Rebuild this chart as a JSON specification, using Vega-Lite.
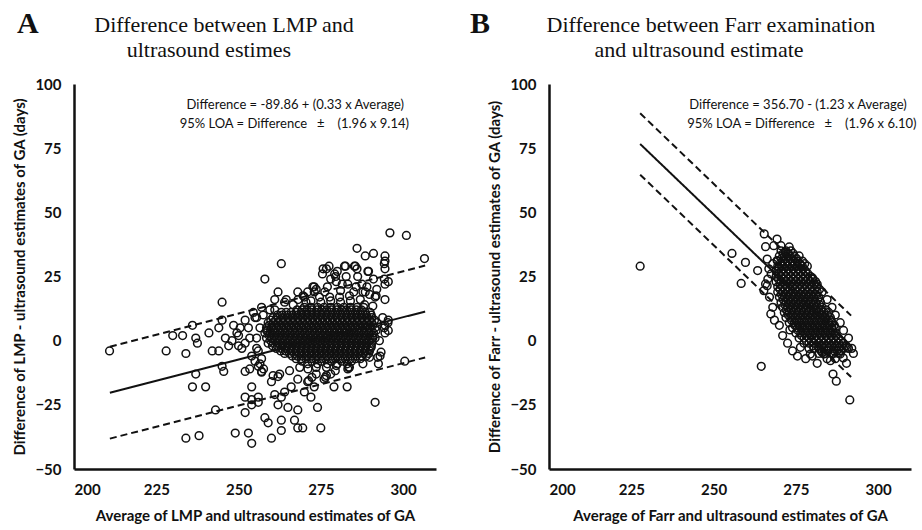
{
"$schema":"https://vega.github.io/schema/vega-lite/v6.json",
"background":"white",
"padding":{"left":12,"top":8,"right":5,"bottom":2},
"spacing":113,
"bounds":"flush",
"datasets":{
"lmp":[
{"x":210.8,"y":-4},{"x":228,"y":-4},{"x":234,"y":-5},{"x":230,"y":2},{"x":233,"y":2},{"x":236,"y":6},{"x":237,"y":1},{"x":237.5,"y":-1},{"x":241,"y":3},{"x":244,"y":5},{"x":245,"y":8},{"x":245,"y":15},{"x":242,"y":-4},{"x":244,"y":-4},{"x":245,"y":-10},{"x":245.5,"y":-12},{"x":237,"y":-13},{"x":236,"y":-18},{"x":240,"y":-18},{"x":243,"y":-27},{"x":234,"y":-38},{"x":238,"y":-37},{"x":249,"y":-36},{"x":253,"y":-36},{"x":254,"y":-40},{"x":260,"y":-38},{"x":263,"y":-35},{"x":267,"y":-31},{"x":268,"y":-34},{"x":269.5,"y":-34},{"x":275,"y":-34},{"x":263,"y":-31},{"x":258,"y":-30},{"x":259,"y":-32},{"x":252,"y":-28},{"x":254,"y":-18},{"x":254,"y":-23},{"x":256,"y":-24},{"x":254,"y":-25},{"x":262,"y":-25},{"x":265,"y":-26},{"x":268,"y":-27},{"x":274,"y":-26},{"x":272,"y":-22},{"x":273,"y":-18},{"x":279,"y":-18},{"x":283,"y":-18},{"x":291.5,"y":-24},{"x":300.5,"y":-8},{"x":292.5,"y":-9},{"x":293,"y":-6},{"x":295.5,"y":8},{"x":294.5,"y":6},{"x":294.5,"y":3},{"x":295.5,"y":4},{"x":294.5,"y":22},{"x":295.5,"y":23},{"x":294.5,"y":28},{"x":294.5,"y":31},{"x":294.5,"y":33},{"x":306.5,"y":32},{"x":288.5,"y":33},{"x":291.5,"y":17},{"x":294.5,"y":16},{"x":289.5,"y":27},{"x":285.5,"y":29},{"x":282.5,"y":29},{"x":277.5,"y":29},{"x":275.5,"y":26},{"x":279.5,"y":25},{"x":258,"y":24},{"x":263,"y":30},{"x":262,"y":19},{"x":270,"y":17},{"x":273,"y":21},{"x":281.5,"y":22},{"x":288.5,"y":19},{"x":287.5,"y":22},{"x":261,"y":16},{"x":257,"y":13},{"x":252,"y":8},{"x":255,"y":9},{"x":250,"y":2},{"x":250,"y":-2},{"x":252,"y":-12},{"x":256,"y":-10},{"x":257,"y":-12},{"x":260,"y":-16},{"x":262,"y":-14},{"x":264,"y":-20},{"x":261,"y":-21},{"x":263,"y":-22},{"x":252,"y":-22},{"x":256,"y":-22},{"x":296,"y":42},{"x":301,"y":41},{"x":286,"y":36},{"x":291,"y":34},
{"x":253.4,"y":1},{"x":255.5,"y":-3},{"x":256.5,"y":-9},{"x":253.4,"y":-11},{"x":257.6,"y":-11},{"x":255.5,"y":9},{"x":256.5,"y":5},{"x":258.5,"y":4},{"x":264.5,"y":16},{"x":261,"y":12},{"x":264,"y":15},
{"x":248,"y":0},{"x":249.5,"y":3},{"x":251,"y":-3},{"x":253,"y":5},{"x":254,"y":-6},{"x":255.5,"y":1},{"x":256,"y":-4},{"x":257,"y":-7},{"x":255,"y":-8},{"x":252,"y":-1},{"x":250.5,"y":5},{"x":247,"y":-2},{"x":248.5,"y":6},{"x":246,"y":1},{"x":254.5,"y":11},{"x":257.5,"y":10},{"x":259.5,"y":12},
{"x":275.7,"y":28},{"x":276.7,"y":28},{"x":282.2,"y":29},{"x":285.2,"y":29},{"x":294.3,"y":30},{"x":289.3,"y":27},{"x":294.3,"y":24},{"x":272.6,"y":21},{"x":273.6,"y":20},{"x":276.2,"y":19},{"x":279.2,"y":26},{"x":279.7,"y":23},{"x":282.7,"y":25},{"x":283.2,"y":22},{"x":286.2,"y":25},{"x":285.7,"y":21},{"x":287.8,"y":19},{"x":289.8,"y":18},{"x":291.8,"y":17.5},{"x":283.7,"y":17.5},{"x":280.7,"y":17},{"x":277.7,"y":17},{"x":274.6,"y":17},{"x":269.6,"y":17.5},{"x":268.1,"y":16},{"x":266.6,"y":14},{"x":288.3,"y":14},{"x":290.8,"y":13.5},
{"x":270.5,"y":15},{"x":272,"y":15.5},{"x":275,"y":15},{"x":278,"y":15.5},{"x":281,"y":15},{"x":284,"y":15.5},{"x":287,"y":16},{"x":273,"y":19},{"x":277,"y":21},{"x":281,"y":19.5},{"x":285,"y":19},{"x":289,"y":21},{"x":292,"y":20},{"x":291,"y":24},{"x":286,"y":28},{"x":280,"y":27},{"x":278,"y":24},{"x":271,"y":19},{"x":268,"y":19},
{"x":293.8,"y":9},{"x":295.4,"y":7},{"x":294.3,"y":5},{"x":290.8,"y":1},{"x":292.8,"y":0},{"x":290.3,"y":-2.6},{"x":293.3,"y":-4.5},{"x":292.3,"y":-6.5},{"x":289.8,"y":-6.5},
{"x":287.8,"y":-9},{"x":283.7,"y":-10.4},{"x":279.7,"y":-9.7},{"x":276.7,"y":-10.4},{"x":273.6,"y":-10.4},{"x":271.1,"y":-11},{"x":268.6,"y":-10.4},{"x":265.5,"y":-11.7},{"x":262.5,"y":-13},{"x":260.5,"y":-13.6},{"x":257,"y":-12.3},{"x":273.6,"y":-13},{"x":276.7,"y":-13.6},{"x":283.2,"y":-11},{"x":271.3,"y":-15.6},{"x":276.4,"y":-14.3},{"x":279.4,"y":-11.7},{"x":283.4,"y":-10.4},{"x":272.3,"y":-14.3},{"x":268,"y":-15},{"x":271,"y":-16},{"x":276,"y":-15},{"x":270,"y":-20},{"x":266,"y":-18},{"x":278,"y":-13},
{"x":270,"y":13},{"x":272,"y":13},{"x":274,"y":13},{"x":276,"y":13},{"x":278,"y":13},{"x":280,"y":13},{"x":282,"y":13},{"x":284,"y":13},{"x":286,"y":13},{"x":288,"y":13},
{"x":263,"y":11},{"x":264.5,"y":11},{"x":266,"y":11},{"x":267.5,"y":11},{"x":269,"y":11},{"x":270.5,"y":11},{"x":272,"y":11},{"x":273.5,"y":11},{"x":275,"y":11},{"x":276.5,"y":11},{"x":278,"y":11},{"x":279.5,"y":11},{"x":281,"y":11},{"x":282.5,"y":11},{"x":284,"y":11},{"x":285.5,"y":11},{"x":287,"y":11},{"x":288.5,"y":11},{"x":290,"y":11},
{"x":260.5,"y":9},{"x":262,"y":9},{"x":263.5,"y":9},{"x":265,"y":9},{"x":266.5,"y":9},{"x":268,"y":9},{"x":269.5,"y":9},{"x":271,"y":9},{"x":272.5,"y":9},{"x":274,"y":9},{"x":275.5,"y":9},{"x":277,"y":9},{"x":278.5,"y":9},{"x":280,"y":9},{"x":281.5,"y":9},{"x":283,"y":9},{"x":284.5,"y":9},{"x":286,"y":9},{"x":287.5,"y":9},{"x":289,"y":9},{"x":290.5,"y":9},
{"x":259,"y":7},{"x":260.5,"y":7},{"x":262,"y":7},{"x":263.5,"y":7},{"x":265,"y":7},{"x":266.5,"y":7},{"x":268,"y":7},{"x":269.5,"y":7},{"x":271,"y":7},{"x":272.5,"y":7},{"x":274,"y":7},{"x":275.5,"y":7},{"x":277,"y":7},{"x":278.5,"y":7},{"x":280,"y":7},{"x":281.5,"y":7},{"x":283,"y":7},{"x":284.5,"y":7},{"x":286,"y":7},{"x":287.5,"y":7},{"x":289,"y":7},{"x":290.5,"y":7},{"x":292,"y":7},
{"x":258.5,"y":5},{"x":260,"y":5},{"x":261.5,"y":5},{"x":263,"y":5},{"x":264.5,"y":5},{"x":266,"y":5},{"x":267.5,"y":5},{"x":269,"y":5},{"x":270.5,"y":5},{"x":272,"y":5},{"x":273.5,"y":5},{"x":275,"y":5},{"x":276.5,"y":5},{"x":278,"y":5},{"x":279.5,"y":5},{"x":281,"y":5},{"x":282.5,"y":5},{"x":284,"y":5},{"x":285.5,"y":5},{"x":287,"y":5},{"x":288.5,"y":5},{"x":290,"y":5},{"x":291.5,"y":5},
{"x":258,"y":3},{"x":259.5,"y":3},{"x":261,"y":3},{"x":262.5,"y":3},{"x":264,"y":3},{"x":265.5,"y":3},{"x":267,"y":3},{"x":268.5,"y":3},{"x":270,"y":3},{"x":271.5,"y":3},{"x":273,"y":3},{"x":274.5,"y":3},{"x":276,"y":3},{"x":277.5,"y":3},{"x":279,"y":3},{"x":280.5,"y":3},{"x":282,"y":3},{"x":283.5,"y":3},{"x":285,"y":3},{"x":286.5,"y":3},{"x":288,"y":3},{"x":289.5,"y":3},{"x":291,"y":3},
{"x":258.5,"y":1},{"x":260,"y":1},{"x":261.5,"y":1},{"x":263,"y":1},{"x":264.5,"y":1},{"x":266,"y":1},{"x":267.5,"y":1},{"x":269,"y":1},{"x":270.5,"y":1},{"x":272,"y":1},{"x":273.5,"y":1},{"x":275,"y":1},{"x":276.5,"y":1},{"x":278,"y":1},{"x":279.5,"y":1},{"x":281,"y":1},{"x":282.5,"y":1},{"x":284,"y":1},{"x":285.5,"y":1},{"x":287,"y":1},{"x":288.5,"y":1},{"x":290,"y":1},{"x":291.5,"y":1},
{"x":259,"y":-1},{"x":260.5,"y":-1},{"x":262,"y":-1},{"x":263.5,"y":-1},{"x":265,"y":-1},{"x":266.5,"y":-1},{"x":268,"y":-1},{"x":269.5,"y":-1},{"x":271,"y":-1},{"x":272.5,"y":-1},{"x":274,"y":-1},{"x":275.5,"y":-1},{"x":277,"y":-1},{"x":278.5,"y":-1},{"x":280,"y":-1},{"x":281.5,"y":-1},{"x":283,"y":-1},{"x":284.5,"y":-1},{"x":286,"y":-1},{"x":287.5,"y":-1},{"x":289,"y":-1},{"x":290.5,"y":-1},
{"x":261.5,"y":-3},{"x":263,"y":-3},{"x":264.5,"y":-3},{"x":266,"y":-3},{"x":267.5,"y":-3},{"x":269,"y":-3},{"x":270.5,"y":-3},{"x":272,"y":-3},{"x":273.5,"y":-3},{"x":275,"y":-3},{"x":276.5,"y":-3},{"x":278,"y":-3},{"x":279.5,"y":-3},{"x":281,"y":-3},{"x":282.5,"y":-3},{"x":284,"y":-3},{"x":285.5,"y":-3},{"x":287,"y":-3},{"x":288.5,"y":-3},{"x":290,"y":-3},
{"x":264,"y":-5},{"x":265.5,"y":-5},{"x":267,"y":-5},{"x":268.5,"y":-5},{"x":270,"y":-5},{"x":271.5,"y":-5},{"x":273,"y":-5},{"x":274.5,"y":-5},{"x":276,"y":-5},{"x":277.5,"y":-5},{"x":279,"y":-5},{"x":280.5,"y":-5},{"x":282,"y":-5},{"x":283.5,"y":-5},{"x":285,"y":-5},{"x":286.5,"y":-5},{"x":288,"y":-5},{"x":289.5,"y":-5},
{"x":267.5,"y":-7},{"x":269,"y":-7},{"x":270.5,"y":-7},{"x":272,"y":-7},{"x":273.5,"y":-7},{"x":275,"y":-7},{"x":276.5,"y":-7},{"x":278,"y":-7},{"x":279.5,"y":-7},{"x":281,"y":-7},{"x":282.5,"y":-7},{"x":284,"y":-7},{"x":285.5,"y":-7},{"x":287,"y":-7},
{"x":271,"y":-9},{"x":274,"y":-9},{"x":277,"y":-9},{"x":280,"y":-9},{"x":283,"y":-9},
{"x":267.8,"y":12},{"x":269.3,"y":12},{"x":270.8,"y":12},{"x":272.3,"y":12},{"x":273.8,"y":12},{"x":275.3,"y":12},{"x":276.8,"y":12},{"x":278.3,"y":12},{"x":279.8,"y":12},{"x":281.3,"y":12},{"x":282.8,"y":12},{"x":284.3,"y":12},{"x":285.8,"y":12},{"x":287.3,"y":12},
{"x":261.8,"y":10},{"x":263.3,"y":10},{"x":264.8,"y":10},{"x":266.3,"y":10},{"x":267.8,"y":10},{"x":269.3,"y":10},{"x":270.8,"y":10},{"x":272.3,"y":10},{"x":273.8,"y":10},{"x":275.3,"y":10},{"x":276.8,"y":10},{"x":278.3,"y":10},{"x":279.8,"y":10},{"x":281.3,"y":10},{"x":282.8,"y":10},{"x":284.3,"y":10},{"x":285.8,"y":10},{"x":287.3,"y":10},{"x":288.8,"y":10},{"x":290.3,"y":10},
{"x":259.8,"y":8},{"x":261.3,"y":8},{"x":262.8,"y":8},{"x":264.3,"y":8},{"x":265.8,"y":8},{"x":267.3,"y":8},{"x":268.8,"y":8},{"x":270.3,"y":8},{"x":271.8,"y":8},{"x":273.3,"y":8},{"x":274.8,"y":8},{"x":276.3,"y":8},{"x":277.8,"y":8},{"x":279.3,"y":8},{"x":280.8,"y":8},{"x":282.3,"y":8},{"x":283.8,"y":8},{"x":285.3,"y":8},{"x":286.8,"y":8},{"x":288.3,"y":8},{"x":289.8,"y":8},{"x":291.3,"y":8},
{"x":259.3,"y":6},{"x":260.8,"y":6},{"x":262.3,"y":6},{"x":263.8,"y":6},{"x":265.3,"y":6},{"x":266.8,"y":6},{"x":268.3,"y":6},{"x":269.8,"y":6},{"x":271.3,"y":6},{"x":272.8,"y":6},{"x":274.3,"y":6},{"x":275.8,"y":6},{"x":277.3,"y":6},{"x":278.8,"y":6},{"x":280.3,"y":6},{"x":281.8,"y":6},{"x":283.3,"y":6},{"x":284.8,"y":6},{"x":286.3,"y":6},{"x":287.8,"y":6},{"x":289.3,"y":6},{"x":290.8,"y":6},
{"x":258.8,"y":4},{"x":260.3,"y":4},{"x":261.8,"y":4},{"x":263.3,"y":4},{"x":264.8,"y":4},{"x":266.3,"y":4},{"x":267.8,"y":4},{"x":269.3,"y":4},{"x":270.8,"y":4},{"x":272.3,"y":4},{"x":273.8,"y":4},{"x":275.3,"y":4},{"x":276.8,"y":4},{"x":278.3,"y":4},{"x":279.8,"y":4},{"x":281.3,"y":4},{"x":282.8,"y":4},{"x":284.3,"y":4},{"x":285.8,"y":4},{"x":287.3,"y":4},{"x":288.8,"y":4},{"x":290.3,"y":4},{"x":291.8,"y":4},
{"x":259.3,"y":2},{"x":260.8,"y":2},{"x":262.3,"y":2},{"x":263.8,"y":2},{"x":265.3,"y":2},{"x":266.8,"y":2},{"x":268.3,"y":2},{"x":269.8,"y":2},{"x":271.3,"y":2},{"x":272.8,"y":2},{"x":274.3,"y":2},{"x":275.8,"y":2},{"x":277.3,"y":2},{"x":278.8,"y":2},{"x":280.3,"y":2},{"x":281.8,"y":2},{"x":283.3,"y":2},{"x":284.8,"y":2},{"x":286.3,"y":2},{"x":287.8,"y":2},{"x":289.3,"y":2},{"x":290.8,"y":2},
{"x":259.8,"y":0},{"x":261.3,"y":0},{"x":262.8,"y":0},{"x":264.3,"y":0},{"x":265.8,"y":0},{"x":267.3,"y":0},{"x":268.8,"y":0},{"x":270.3,"y":0},{"x":271.8,"y":0},{"x":273.3,"y":0},{"x":274.8,"y":0},{"x":276.3,"y":0},{"x":277.8,"y":0},{"x":279.3,"y":0},{"x":280.8,"y":0},{"x":282.3,"y":0},{"x":283.8,"y":0},{"x":285.3,"y":0},{"x":286.8,"y":0},{"x":288.3,"y":0},{"x":289.8,"y":0},
{"x":260.3,"y":-2},{"x":261.8,"y":-2},{"x":263.3,"y":-2},{"x":264.8,"y":-2},{"x":266.3,"y":-2},{"x":267.8,"y":-2},{"x":269.3,"y":-2},{"x":270.8,"y":-2},{"x":272.3,"y":-2},{"x":273.8,"y":-2},{"x":275.3,"y":-2},{"x":276.8,"y":-2},{"x":278.3,"y":-2},{"x":279.8,"y":-2},{"x":281.3,"y":-2},{"x":282.8,"y":-2},{"x":284.3,"y":-2},{"x":285.8,"y":-2},{"x":287.3,"y":-2},{"x":288.8,"y":-2},{"x":290.3,"y":-2},
{"x":262.8,"y":-4},{"x":264.3,"y":-4},{"x":265.8,"y":-4},{"x":267.3,"y":-4},{"x":268.8,"y":-4},{"x":270.3,"y":-4},{"x":271.8,"y":-4},{"x":273.3,"y":-4},{"x":274.8,"y":-4},{"x":276.3,"y":-4},{"x":277.8,"y":-4},{"x":279.3,"y":-4},{"x":280.8,"y":-4},{"x":282.3,"y":-4},{"x":283.8,"y":-4},{"x":285.3,"y":-4},{"x":286.8,"y":-4},{"x":288.3,"y":-4},{"x":289.8,"y":-4},
{"x":266.3,"y":-6},{"x":267.8,"y":-6},{"x":269.3,"y":-6},{"x":270.8,"y":-6},{"x":272.3,"y":-6},{"x":273.8,"y":-6},{"x":275.3,"y":-6},{"x":276.8,"y":-6},{"x":278.3,"y":-6},{"x":279.8,"y":-6},{"x":281.3,"y":-6},{"x":282.8,"y":-6},{"x":284.3,"y":-6},{"x":285.8,"y":-6},{"x":287.3,"y":-6},{"x":288.8,"y":-6},
{"x":269.3,"y":-8},{"x":272.3,"y":-8},{"x":275.3,"y":-8},{"x":278.3,"y":-8},{"x":281.3,"y":-8},{"x":284.3,"y":-8}
],
"farr":[
{"x":227.7,"y":29},{"x":255.6,"y":34},{"x":259.7,"y":30.5},{"x":263.4,"y":27.3},{"x":258.4,"y":22.3},{"x":267.4,"y":10.4},{"x":264.5,"y":-10},{"x":266.3,"y":21.4},{"x":265.3,"y":19.5},{"x":265.4,"y":41.6},{"x":269.3,"y":39.6},{"x":265.8,"y":36.6},{"x":268.3,"y":37},{"x":271.8,"y":34.4},{"x":266.3,"y":31.8},{"x":269.3,"y":31.2},{"x":266.8,"y":28},{"x":269.8,"y":28.6},{"x":273.2,"y":4.2},{"x":276.4,"y":-2.6},{"x":281.5,"y":-8.8},{"x":285.5,"y":-7.8},{"x":286.3,"y":-13},{"x":287.3,"y":-15.8},{"x":291.4,"y":-23.1},{"x":290.4,"y":-8.8},{"x":289.4,"y":-6.7},{"x":290.6,"y":-2.6},{"x":290.3,"y":-2},{"x":265.8,"y":22.1},{"x":279.4,"y":-5.2},{"x":283.5,"y":-5.2},{"x":287.5,"y":-3.9},{"x":288.5,"y":-5.2},
{"x":266.5,"y":24},{"x":267,"y":17},{"x":268,"y":13},{"x":268.5,"y":8},{"x":270,"y":6},{"x":271,"y":2},{"x":272.5,"y":-1},{"x":274,"y":-4},{"x":275.5,"y":-6},{"x":278,"y":-7},{"x":280,"y":-6},{"x":283,"y":-4.5},{"x":286.5,"y":-5},{"x":267.5,"y":26},{"x":268,"y":30},{"x":270.5,"y":37},{"x":273,"y":36.5},{"x":276.5,"y":29.5},{"x":278,"y":27},{"x":280,"y":24.5},{"x":281.5,"y":22},{"x":283,"y":19},{"x":284.5,"y":16},{"x":286,"y":13},{"x":287,"y":10},{"x":288.5,"y":7},{"x":289.5,"y":4},{"x":291,"y":1},{"x":292,"y":-3},{"x":292.5,"y":-5},
{"x":270.5,"y":35},{"x":272,"y":35},{"x":273.5,"y":35},
{"x":270,"y":33},{"x":271.5,"y":33},{"x":273,"y":33},{"x":274.5,"y":33},{"x":276,"y":33},
{"x":269.5,"y":31},{"x":271,"y":31},{"x":272.5,"y":31},{"x":274,"y":31},{"x":275.5,"y":31},{"x":277,"y":31},
{"x":269.5,"y":29},{"x":271,"y":29},{"x":272.5,"y":29},{"x":274,"y":29},{"x":275.5,"y":29},{"x":277,"y":29},{"x":278.5,"y":29},
{"x":269,"y":27},{"x":270.5,"y":27},{"x":272,"y":27},{"x":273.5,"y":27},{"x":275,"y":27},{"x":276.5,"y":27},{"x":278,"y":27},
{"x":269,"y":25},{"x":270.5,"y":25},{"x":272,"y":25},{"x":273.5,"y":25},{"x":275,"y":25},{"x":276.5,"y":25},{"x":278,"y":25},{"x":279.5,"y":25},
{"x":269,"y":23},{"x":270.5,"y":23},{"x":272,"y":23},{"x":273.5,"y":23},{"x":275,"y":23},{"x":276.5,"y":23},{"x":278,"y":23},{"x":279.5,"y":23},{"x":281,"y":23},
{"x":269.5,"y":21},{"x":271,"y":21},{"x":272.5,"y":21},{"x":274,"y":21},{"x":275.5,"y":21},{"x":277,"y":21},{"x":278.5,"y":21},{"x":280,"y":21},{"x":281.5,"y":21},
{"x":269.5,"y":19},{"x":271,"y":19},{"x":272.5,"y":19},{"x":274,"y":19},{"x":275.5,"y":19},{"x":277,"y":19},{"x":278.5,"y":19},{"x":280,"y":19},{"x":281.5,"y":19},
{"x":270,"y":17},{"x":271.5,"y":17},{"x":273,"y":17},{"x":274.5,"y":17},{"x":276,"y":17},{"x":277.5,"y":17},{"x":279,"y":17},{"x":280.5,"y":17},{"x":282,"y":17},
{"x":270.5,"y":15},{"x":272,"y":15},{"x":273.5,"y":15},{"x":275,"y":15},{"x":276.5,"y":15},{"x":278,"y":15},{"x":279.5,"y":15},{"x":281,"y":15},{"x":282.5,"y":15},
{"x":271,"y":13},{"x":272.5,"y":13},{"x":274,"y":13},{"x":275.5,"y":13},{"x":277,"y":13},{"x":278.5,"y":13},{"x":280,"y":13},{"x":281.5,"y":13},{"x":283,"y":13},
{"x":271.5,"y":11},{"x":273,"y":11},{"x":274.5,"y":11},{"x":276,"y":11},{"x":277.5,"y":11},{"x":279,"y":11},{"x":280.5,"y":11},{"x":282,"y":11},{"x":283.5,"y":11},{"x":285,"y":11},
{"x":272,"y":9},{"x":273.5,"y":9},{"x":275,"y":9},{"x":276.5,"y":9},{"x":278,"y":9},{"x":279.5,"y":9},{"x":281,"y":9},{"x":282.5,"y":9},{"x":284,"y":9},{"x":285.5,"y":9},
{"x":273,"y":7},{"x":274.5,"y":7},{"x":276,"y":7},{"x":277.5,"y":7},{"x":279,"y":7},{"x":280.5,"y":7},{"x":282,"y":7},{"x":283.5,"y":7},{"x":285,"y":7},{"x":286,"y":7},
{"x":274,"y":5},{"x":275.5,"y":5},{"x":277,"y":5},{"x":278.5,"y":5},{"x":280,"y":5},{"x":281.5,"y":5},{"x":283,"y":5},{"x":284.5,"y":5},{"x":286,"y":5},{"x":287,"y":5},
{"x":275,"y":3},{"x":276.5,"y":3},{"x":278,"y":3},{"x":279.5,"y":3},{"x":281,"y":3},{"x":282.5,"y":3},{"x":284,"y":3},{"x":285.5,"y":3},{"x":287,"y":3},
{"x":276,"y":1},{"x":277.5,"y":1},{"x":279,"y":1},{"x":280.5,"y":1},{"x":282,"y":1},{"x":283.5,"y":1},{"x":285,"y":1},{"x":286.5,"y":1},{"x":288,"y":1},
{"x":277.5,"y":-1},{"x":279,"y":-1},{"x":280.5,"y":-1},{"x":282,"y":-1},{"x":283.5,"y":-1},{"x":285,"y":-1},{"x":286.5,"y":-1},{"x":288,"y":-1},{"x":289.5,"y":-1},
{"x":279,"y":-3},{"x":280.5,"y":-3},{"x":282,"y":-3},{"x":283.5,"y":-3},{"x":285,"y":-3},{"x":286.5,"y":-3},{"x":288,"y":-3},{"x":289.5,"y":-3},{"x":291,"y":-3},
{"x":282,"y":-5},{"x":284,"y":-5},{"x":286,"y":-5},{"x":288,"y":-5},
{"x":284.5,"y":-7},{"x":287,"y":-7},
{"x":271.2,"y":34},{"x":272.7,"y":34},{"x":274.2,"y":34},
{"x":270.7,"y":32},{"x":272.2,"y":32},{"x":273.7,"y":32},{"x":275.2,"y":32},
{"x":270.2,"y":30},{"x":271.7,"y":30},{"x":273.2,"y":30},{"x":274.7,"y":30},{"x":276.2,"y":30},{"x":277.7,"y":30},
{"x":269.7,"y":28},{"x":271.2,"y":28},{"x":272.7,"y":28},{"x":274.2,"y":28},{"x":275.7,"y":28},{"x":277.2,"y":28},
{"x":269.7,"y":26},{"x":271.2,"y":26},{"x":272.7,"y":26},{"x":274.2,"y":26},{"x":275.7,"y":26},{"x":277.2,"y":26},{"x":278.7,"y":26},
{"x":269.7,"y":24},{"x":271.2,"y":24},{"x":272.7,"y":24},{"x":274.2,"y":24},{"x":275.7,"y":24},{"x":277.2,"y":24},{"x":278.7,"y":24},{"x":280.2,"y":24},
{"x":270.2,"y":22},{"x":271.7,"y":22},{"x":273.2,"y":22},{"x":274.7,"y":22},{"x":276.2,"y":22},{"x":277.7,"y":22},{"x":279.2,"y":22},{"x":280.7,"y":22},
{"x":270.2,"y":20},{"x":271.7,"y":20},{"x":273.2,"y":20},{"x":274.7,"y":20},{"x":276.2,"y":20},{"x":277.7,"y":20},{"x":279.2,"y":20},{"x":280.7,"y":20},{"x":282.2,"y":20},
{"x":270.7,"y":18},{"x":272.2,"y":18},{"x":273.7,"y":18},{"x":275.2,"y":18},{"x":276.7,"y":18},{"x":278.2,"y":18},{"x":279.7,"y":18},{"x":281.2,"y":18},
{"x":271.2,"y":16},{"x":272.7,"y":16},{"x":274.2,"y":16},{"x":275.7,"y":16},{"x":277.2,"y":16},{"x":278.7,"y":16},{"x":280.2,"y":16},{"x":281.7,"y":16},
{"x":271.7,"y":14},{"x":273.2,"y":14},{"x":274.7,"y":14},{"x":276.2,"y":14},{"x":277.7,"y":14},{"x":279.2,"y":14},{"x":280.7,"y":14},{"x":282.2,"y":14},
{"x":272.2,"y":12},{"x":273.7,"y":12},{"x":275.2,"y":12},{"x":276.7,"y":12},{"x":278.2,"y":12},{"x":279.7,"y":12},{"x":281.2,"y":12},{"x":282.7,"y":12},{"x":284.2,"y":12},
{"x":272.7,"y":10},{"x":274.2,"y":10},{"x":275.7,"y":10},{"x":277.2,"y":10},{"x":278.7,"y":10},{"x":280.2,"y":10},{"x":281.7,"y":10},{"x":283.2,"y":10},{"x":284.7,"y":10},
{"x":273.7,"y":8},{"x":275.2,"y":8},{"x":276.7,"y":8},{"x":278.2,"y":8},{"x":279.7,"y":8},{"x":281.2,"y":8},{"x":282.7,"y":8},{"x":284.2,"y":8},{"x":285.7,"y":8},
{"x":274.7,"y":6},{"x":276.2,"y":6},{"x":277.7,"y":6},{"x":279.2,"y":6},{"x":280.7,"y":6},{"x":282.2,"y":6},{"x":283.7,"y":6},{"x":285.2,"y":6},{"x":286.7,"y":6},
{"x":275.7,"y":4},{"x":277.2,"y":4},{"x":278.7,"y":4},{"x":280.2,"y":4},{"x":281.7,"y":4},{"x":283.2,"y":4},{"x":284.7,"y":4},{"x":286.2,"y":4},
{"x":276.7,"y":2},{"x":278.2,"y":2},{"x":279.7,"y":2},{"x":281.2,"y":2},{"x":282.7,"y":2},{"x":284.2,"y":2},{"x":285.7,"y":2},{"x":287.2,"y":2},
{"x":278.2,"y":0},{"x":279.7,"y":0},{"x":281.2,"y":0},{"x":282.7,"y":0},{"x":284.2,"y":0},{"x":285.7,"y":0},{"x":287.2,"y":0},{"x":288.7,"y":0},
{"x":280.2,"y":-2},{"x":281.7,"y":-2},{"x":283.2,"y":-2},{"x":284.7,"y":-2},{"x":286.2,"y":-2},{"x":287.7,"y":-2},{"x":289.2,"y":-2},
{"x":282.7,"y":-4},{"x":284.7,"y":-4},{"x":286.7,"y":-4},{"x":288.7,"y":-4}
],
"lmpLines":[{"x":210.9,"y":-20.26,"k":"mean"},{"x":306.7,"y":11.35,"k":"mean"},{"x":210.9,"y":-2.35,"k":"upper"},{"x":306.7,"y":29.26,"k":"upper"},{"x":210.9,"y":-38.17,"k":"lower"},{"x":306.7,"y":-6.56,"k":"lower"}],
"farrLines":[{"x":227.7,"y":76.63,"k":"mean"},{"x":291.8,"y":-2.21,"k":"mean"},{"x":227.7,"y":88.59,"k":"upper"},{"x":291.8,"y":9.75,"k":"upper"},{"x":227.7,"y":64.67,"k":"lower"},{"x":291.8,"y":-14.17,"k":"lower"}]
},
"hconcat":[
{
"width":362,"height":385,
"layer":[
{"data":{"name":"lmp"},"mark":{"type":"point","shape":"circle","filled":false,"size":60,"strokeWidth":1.5,"color":"#111","opacity":1},
"encoding":{"x":{"field":"x","type":"quantitative","scale":{"domain":[200,310],"nice":false,"zero":false},"axis":{"values":[200,225,250,275,300],"title":"Average of LMP and ultrasound estimates of GA"}},
"y":{"field":"y","type":"quantitative","scale":{"domain":[-50,100],"nice":false,"zero":false},"axis":{"values":[-50,-25,0,25,50,75,100],"title":"Difference of LMP - ultrasound estimates of GA (days)"}}}},
{"data":{"name":"lmpLines"},"mark":{"type":"line","color":"#111","strokeWidth":2},
"encoding":{"x":{"field":"x","type":"quantitative"},"y":{"field":"y","type":"quantitative"},"detail":{"field":"k"},"strokeDash":{"field":"k","type":"nominal","scale":{"domain":["mean","upper","lower"],"range":[[1,0],[7,4],[7,4]]},"legend":null}}},
{"data":{"values":[{"t":"A"}]},"mark":{"type":"text","font":"Liberation Serif","fontSize":30,"fontWeight":"bold","align":"left","baseline":"alphabetic","color":"#111"},"encoding":{"text":{"field":"t"},"x":{"datum":182.7},"y":{"datum":120}}},
{"data":{"values":[{"t":"Difference between LMP and"}]},"mark":{"type":"text","font":"Liberation Serif","fontSize":22,"align":"center","baseline":"alphabetic","color":"#111"},"encoding":{"text":{"field":"t"},"x":{"datum":245.6},"y":{"datum":120.4}}},
{"data":{"values":[{"t":"ultrasound estimes"}]},"mark":{"type":"text","font":"Liberation Serif","fontSize":22,"align":"center","baseline":"alphabetic","color":"#111"},"encoding":{"text":{"field":"t"},"x":{"datum":241},"y":{"datum":110.6}}},
{"data":{"values":[{"t":"Difference = -89.86 + (0.33 x Average)"}]},"mark":{"type":"text","font":"Lato","fontSize":13,"align":"left","baseline":"middle","color":"#111"},"encoding":{"text":{"field":"t"},"x":{"datum":234.2},"y":{"datum":92}}},
{"data":{"values":[{"t":"95% LOA = Difference\u2002\u00a0±\u2002\u2002(1.96 x 9.14)"}]},"mark":{"type":"text","font":"Lato","fontSize":13,"align":"left","baseline":"middle","color":"#111"},"encoding":{"text":{"field":"t"},"x":{"datum":232.1},"y":{"datum":84.5}}}
]
},
{
"width":362,"height":385,
"layer":[
{"data":{"name":"farr"},"mark":{"type":"point","shape":"circle","filled":false,"size":60,"strokeWidth":1.5,"color":"#111","opacity":1},
"encoding":{"x":{"field":"x","type":"quantitative","scale":{"domain":[200,310],"nice":false,"zero":false},"axis":{"values":[200,225,250,275,300],"title":"Average of Farr and ultrasound estimates of GA"}},
"y":{"field":"y","type":"quantitative","scale":{"domain":[-50,100],"nice":false,"zero":false},"axis":{"values":[-50,-25,0,25,50,75,100],"title":"Difference of Farr - ultrasound estimates of GA (days)"}}}},
{"data":{"name":"farrLines"},"mark":{"type":"line","color":"#111","strokeWidth":2},
"encoding":{"x":{"field":"x","type":"quantitative"},"y":{"field":"y","type":"quantitative"},"detail":{"field":"k"},"strokeDash":{"field":"k","type":"nominal","scale":{"domain":["mean","upper","lower"],"range":[[1,0],[7,4],[7,4]]},"legend":null}}},
{"data":{"values":[{"t":"B"}]},"mark":{"type":"text","font":"Liberation Serif","fontSize":30,"fontWeight":"bold","align":"left","baseline":"alphabetic","color":"#111"},"encoding":{"text":{"field":"t"},"x":{"datum":176},"y":{"datum":120}}},
{"data":{"values":[{"t":"Difference between Farr examination"}]},"mark":{"type":"text","font":"Liberation Serif","fontSize":22,"align":"center","baseline":"alphabetic","color":"#111"},"encoding":{"text":{"field":"t"},"x":{"datum":249.2},"y":{"datum":120.4}}},
{"data":{"values":[{"t":"and ultrasound estimate"}]},"mark":{"type":"text","font":"Liberation Serif","fontSize":22,"align":"center","baseline":"alphabetic","color":"#111"},"encoding":{"text":{"field":"t"},"x":{"datum":245.6},"y":{"datum":110.6}}},
{"data":{"values":[{"t":"Difference = 356.70 - (1.23 x Average)"}]},"mark":{"type":"text","font":"Lato","fontSize":13,"align":"left","baseline":"middle","color":"#111"},"encoding":{"text":{"field":"t"},"x":{"datum":242.6},"y":{"datum":92}}},
{"data":{"values":[{"t":"95% LOA = Difference\u2002\u00a0±\u2002\u2002(1.96 x 6.10)"}]},"mark":{"type":"text","font":"Lato","fontSize":13,"align":"left","baseline":"middle","color":"#111"},"encoding":{"text":{"field":"t"},"x":{"datum":242},"y":{"datum":84.5}}}
]
}
],
"config":{
"view":{"stroke":null},
"axis":{"domainColor":"#111","domainWidth":2.5,"grid":false,"ticks":false,"tickSize":0,"labelFont":"Lato","labelFontWeight":"bold","labelFontSize":15,"labelColor":"#111","titleFont":"Lato","titleFontWeight":"bold","titleFontSize":15,"titleColor":"#111"},
"axisX":{"labelPadding":13,"titlePadding":11},
"axisY":{"labelPadding":13,"titlePadding":7}
}
}
